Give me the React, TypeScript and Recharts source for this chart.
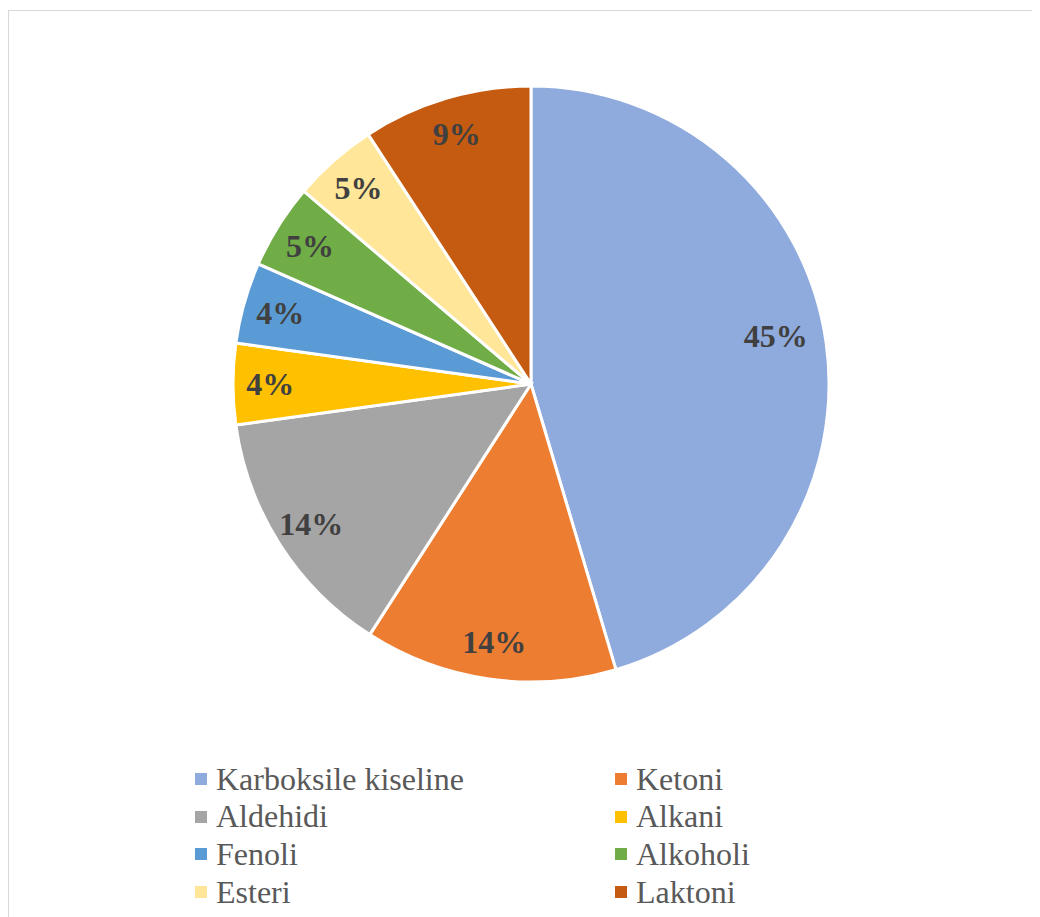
import React from 'react';
import { PieChart, Pie, Cell, Legend } from 'recharts';

const categories = ['Karboksile kiseline', 'Ketoni', 'Aldehidi', 'Alkani', 'Fenoli', 'Alkoholi', 'Esteri', 'Laktoni'];
const values = [45.4, 13.7, 13.7, 4.4, 4.4, 4.6, 4.6, 9.2];
const colors = ['#8FAADC', '#ED7D31', '#A5A5A5', '#FFC000', '#5B9BD5', '#70AD47', '#FFE699', '#C55A11'];

const data = categories.map((name, i) => ({ name, value: values[i] }));

const RAD = Math.PI / 180;
const SERIF = "'Liberation Serif', 'DejaVu Serif', serif";

const renderLabel = (props: any) => {
  const { cx, cy, midAngle, outerRadius, percent, index } = props;
  const r = outerRadius * (index === 0 ? 0.83 : 0.875);
  const x = cx + r * Math.cos(-midAngle * RAD);
  const y = cy + r * Math.sin(-midAngle * RAD) - (index === 0 ? 12 : 0);
  return (
    <text
      x={x}
      y={y}
      fill="#404040"
      textAnchor="middle"
      dominantBaseline="central"
      fontFamily={SERIF}
      fontWeight="bold"
      fontSize={32}
    >
      {`${Math.round(percent * 100)}%`}
    </text>
  );
};

const LegendContent = () => (
  <div style={{ position: 'relative', width: 1032, height: 160 }}>
    {categories.map((name, i) => {
      const col = i % 2;
      const row = Math.floor(i / 2);
      const left = col === 0 ? 187 : 607;
      const top = row * 37.7;
      return (
        <div
          key={name}
          style={{
            position: 'absolute',
            left,
            top,
            height: 38,
            display: 'flex',
            alignItems: 'center',
            fontFamily: SERIF,
            fontSize: 32,
            color: '#595959',
            whiteSpace: 'nowrap',
          }}
        >
          <span style={{ display: 'inline-block', width: 12, height: 12, background: colors[i], marginRight: 9 }} />
          <span>{name}</span>
        </div>
      );
    })}
  </div>
);

export default function App() {
  return (
    <div style={{ width: 1032, height: 909, overflow: 'hidden', position: 'relative', fontFamily: SERIF }}>
      <div
        style={{
          position: 'absolute',
          left: 0,
          top: 2,
          width: 1100,
          height: 1000,
          border: '1px solid #d9d9d9',
          boxSizing: 'border-box',
        }}
      />
      <div style={{ position: 'absolute', left: 0, top: 0 }}>
        <PieChart width={1032} height={909} margin={{ top: 0, right: 0, bottom: 0, left: 0 }}>
          <Pie
            data={data}
            dataKey="value"
            nameKey="name"
            cx={523}
            cy={376}
            outerRadius={298}
            startAngle={90}
            endAngle={-270}
            stroke="#ffffff"
            strokeWidth={3}
            label={renderLabel}
            labelLine={false}
            isAnimationActive={false}
          >
            {data.map((d, i) => (
              <Cell key={d.name} fill={colors[i]} />
            ))}
          </Pie>
          <Legend
            content={<LegendContent />}
            wrapperStyle={{ position: 'absolute', left: 0, top: 752, width: 1032 }}
          />
        </PieChart>
      </div>
    </div>
  );
}
